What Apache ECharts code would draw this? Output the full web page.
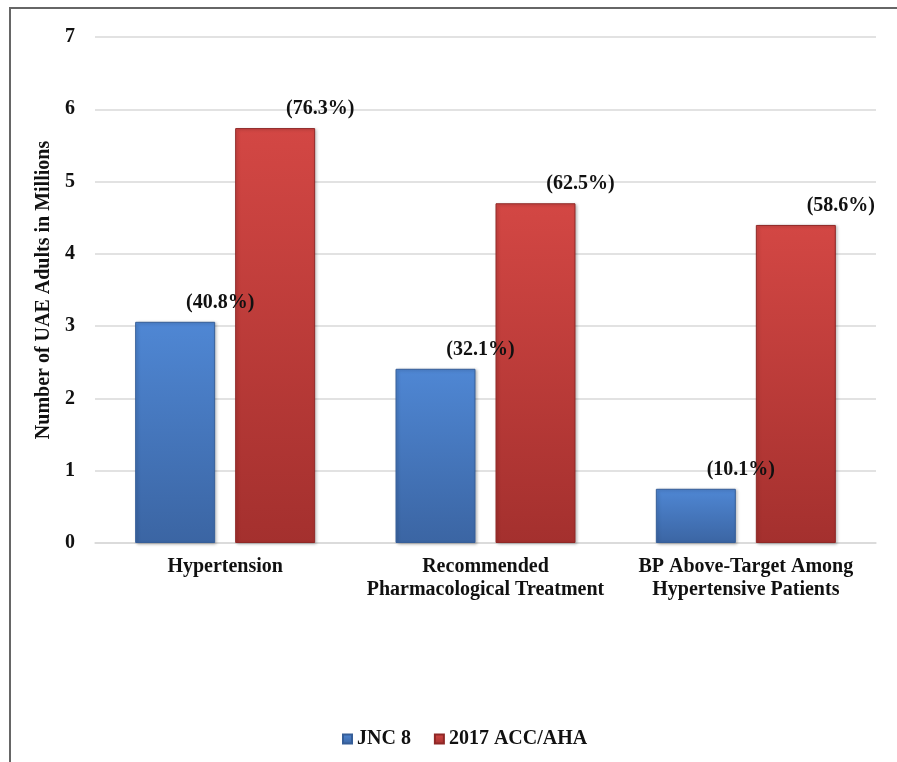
<!DOCTYPE html>
<html>
<head>
<meta charset="utf-8">
<script src="https://cdn.jsdelivr.net/npm/echarts@6/dist/echarts.min.js"></script>
<style>
  html, body { margin: 0; padding: 0; background: #fff; }
  #chart { width: 897px; height: 762px; }
</style>
</head>
<body>
<div id="chart"></div>
<script>
// Hypertension burden among UAE adults under two guidelines
const categories = [
  'Hypertension',
  'Recommended\nPharmacological Treatment',
  'BP Above-Target Among\nHypertensive Patients'
];
const seriesNames = ['JNC 8', '2017 ACC/AHA'];
const jnc8Values = [3.06, 2.41, 0.75];      // millions
const accAhaValues = [5.74, 4.70, 4.40];    // millions
const jnc8Pct = ['40.8%', '32.1%', '10.1%'];
const accAhaPct = ['76.3%', '62.5%', '58.6%'];
const yTicks = [0, 1, 2, 3, 4, 5, 6, 7];

const FONT = '"Liberation Serif", "Times New Roman", serif';
const FS = 20;

function barGradient(top, bottom) {
  return new echarts.graphic.LinearGradient(0, 0, 0, 1, [
    { offset: 0, color: top },
    { offset: 1, color: bottom }
  ]);
}

const blueFill = barGradient('#4f87d4', '#3b65a3');
const redFill = barGradient('#d34744', '#a4302e');

const labelStyle = {
  show: true,
  position: 'top',
  offset: [45, -4],
  fontFamily: FONT,
  fontWeight: 'bold',
  fontSize: FS,
  color: '#111'
};

const barShadow = {
  shadowBlur: 3,
  shadowColor: 'rgba(0,0,0,0.25)',
  shadowOffsetX: 1.5,
  shadowOffsetY: 1
};

const chart = echarts.init(document.getElementById('chart'), null, { renderer: 'canvas' });

chart.setOption({
  backgroundColor: '#fff',
  animation: false,
  grid: { left: 95, right: 21, top: 37, bottom: 219, containLabel: false },
  legend: {
    bottom: 8,
    left: 337,
    itemWidth: 9,
    itemHeight: 9,
    itemGap: 23,
    icon: 'rect',
    textStyle: { fontFamily: FONT, fontWeight: 'bold', fontSize: FS, color: '#111' },
    data: seriesNames
  },
  xAxis: {
    type: 'category',
    data: categories,
    axisLine: { show: true, lineStyle: { color: '#d9d9d9', width: 1.5 } },
    axisTick: { show: false },
    axisLabel: {
      interval: 0,
      fontFamily: FONT, fontWeight: 'bold', fontSize: FS, color: '#111',
      lineHeight: 23, margin: 12
    }
  },
  yAxis: {
    type: 'value',
    min: yTicks[0],
    max: yTicks[yTicks.length - 1],
    interval: 1,
    name: 'Number of UAE Adults in Millions',
    nameLocation: 'middle',
    nameGap: 34,
    nameTextStyle: { fontFamily: FONT, fontWeight: 'bold', fontSize: FS, color: '#111' },
    axisLine: { show: false },
    axisTick: { show: false },
    axisLabel: {
      fontFamily: FONT, fontWeight: 'bold', fontSize: FS, color: '#111', margin: 20
    },
    splitLine: { lineStyle: { color: '#d9d9d9', width: 1.5 } }
  },
  series: [
    {
      name: seriesNames[0],
      type: 'bar',
      data: jnc8Values,
      barWidth: 80,
      barGap: '25%',
      itemStyle: Object.assign({ color: blueFill, borderColor: '#365e98', borderWidth: 1 }, barShadow),
      label: Object.assign({}, labelStyle, {
        formatter: p => '(' + jnc8Pct[p.dataIndex] + ')'
      })
    },
    {
      name: seriesNames[1],
      type: 'bar',
      data: accAhaValues,
      barWidth: 80,
      barGap: '25%',
      itemStyle: Object.assign({ color: redFill, borderColor: '#8f2826', borderWidth: 1 }, barShadow),
      label: Object.assign({}, labelStyle, {
        formatter: p => '(' + accAhaPct[p.dataIndex] + ')'
      })
    }
  ],
  graphic: [
    {
      type: 'polyline',
      shape: { points: [[10, 762], [10, 8], [897, 8]] },
      style: { stroke: '#666', lineWidth: 2, fill: null },
      silent: true
    }
  ]
});
</script>
</body>
</html>
